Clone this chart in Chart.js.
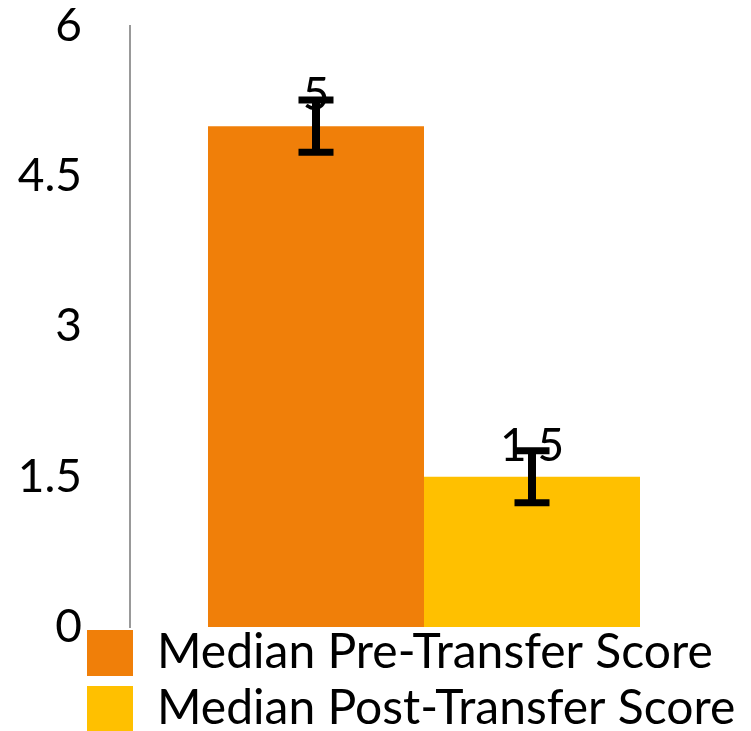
<!DOCTYPE html>
<html>
<head>
<meta charset="utf-8">
<script src="https://cdn.jsdelivr.net/npm/chart.js@4.4.0/dist/chart.umd.min.js"></script>
<style>
  html, body { margin: 0; padding: 0; background: #fff; }
  #wrap { width: 751px; height: 731px; }
</style>
</head>
<body>
<div id="wrap"><canvas id="scoreChart"></canvas></div>
<script>
// chart data
const categories = [''];
const seriesNames = ['Median Pre-Transfer Score', 'Median Post-Transfer Score'];
const preScores = [5];
const postScores = [1.5];
const preErrors = [0.26];
const postErrors = [0.26];
const yTicks = [0, 1.5, 3, 4.5, 6];

const labelFont = { family: 'Lato', size: 46, lineHeight: 1 };

// value labels + error bars, drawn on top of the bars
const errorBarsPlugin = {
  id: 'errorBars',
  afterDatasetsDraw: function (chart) {
    const ctx = chart.ctx;
    const yScale = chart.scales.y;
    chart.data.datasets.forEach(function (ds, i) {
      const meta = chart.getDatasetMeta(i);
      meta.data.forEach(function (bar, j) {
        const value = ds.data[j];
        const err = ds.errors[j];
        ctx.save();
        ctx.font = '46px Lato';
        ctx.fillStyle = '#000';
        ctx.textAlign = 'center';
        ctx.textBaseline = 'alphabetic';
        ctx.fillText(String(value), bar.x, bar.y - 16);

        const top = yScale.getPixelForValue(value + err);
        const bottom = yScale.getPixelForValue(value - err);
        ctx.strokeStyle = '#000';
        ctx.lineWidth = 8;
        ctx.beginPath();
        ctx.moveTo(bar.x, top);
        ctx.lineTo(bar.x, bottom);
        ctx.stroke();
        ctx.lineWidth = 7;
        ctx.beginPath();
        ctx.moveTo(bar.x - 17.5, top);
        ctx.lineTo(bar.x + 17.5, top);
        ctx.moveTo(bar.x - 17.5, bottom);
        ctx.lineTo(bar.x + 17.5, bottom);
        ctx.stroke();
        ctx.restore();
      });
    });
  }
};

// move the legend to where the reference has it (left aligned, overlapping the bottom)
const legendPlace = {
  id: 'legendPlace',
  afterLayout: function (chart) {
    const lg = chart.legend;
    lg.left = 79;
    lg.right = 79 + lg.width;
    lg.top = 621;
    lg.bottom = 621 + lg.height;
  }
};

const canvas = document.getElementById('scoreChart');
new Chart(canvas, {
  type: 'bar',
  data: {
    labels: categories,
    datasets: [
      {
        label: seriesNames[0],
        data: preScores,
        errors: preErrors,
        backgroundColor: '#F07F09',
        borderWidth: 0
      },
      {
        label: seriesNames[1],
        data: postScores,
        errors: postErrors,
        backgroundColor: '#FFC000',
        borderWidth: 0
      }
    ]
  },
  options: {
    responsive: true,
    maintainAspectRatio: false,
    animation: false,
    layout: {
      padding: { top: 26, right: 33, bottom: -18, left: 0 }
    },
    datasets: {
      bar: {
        categoryPercentage: 0.7347,
        barPercentage: 1.0
      }
    },
    scales: {
      x: {
        display: false
      },
      y: {
        min: 0,
        max: 6,
        afterBuildTicks: function (scale) {
          scale.ticks = yTicks.map(function (v) { return { value: v }; });
        },
        afterFit: function (scale) {
          // fixed axis width; tick padding should not push the plot down
          scale.width = 130;
          scale.paddingTop = 0;
          scale.paddingBottom = 0;
        },
        grid: { display: false, drawTicks: false },
        border: { display: true, color: '#999999', width: 2 },
        ticks: {
          padding: 48,
          color: '#000',
          font: labelFont,
          callback: function (v) { return String(v); }
        }
      }
    },
    plugins: {
      legend: {
        position: 'bottom',
        align: 'start',
        labels: {
          font: { family: 'Lato', size: 48 },
          color: '#000',
          boxWidth: 46,
          boxHeight: 46,
          padding: 8
        }
      },
      tooltip: { enabled: false }
    }
  },
  plugins: [errorBarsPlugin, legendPlace]
});
</script>
</body>
</html>
